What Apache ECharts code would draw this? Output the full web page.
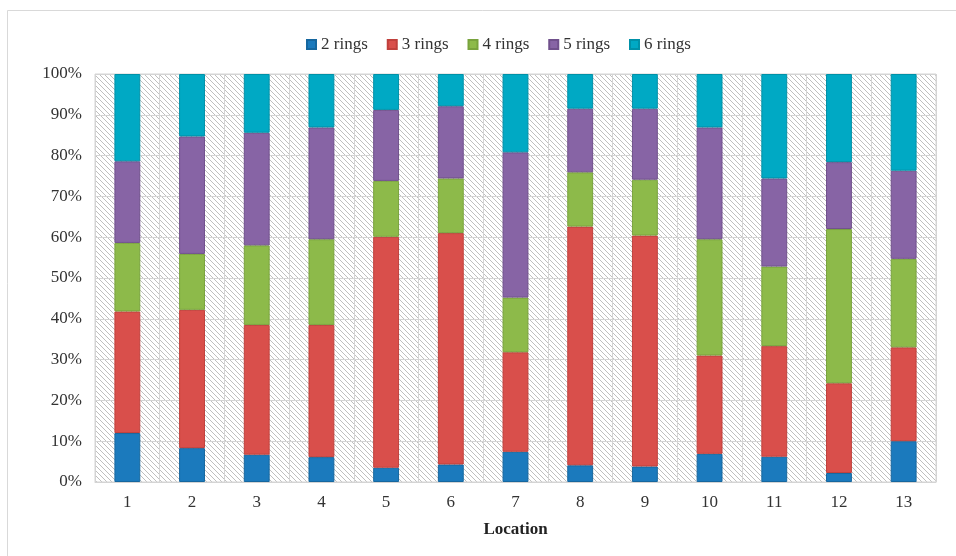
<!DOCTYPE html>
<html>
<head>
<meta charset="utf-8">
<script src="https://cdn.jsdelivr.net/npm/echarts@6/dist/echarts.min.js"></script>
<style>
  html, body { margin: 0; padding: 0; background: #fff; }
  #chart { width: 956px; height: 556px; }
</style>
</head>
<body>
<div id="chart"></div>
<script>
// Share of PAH ring classes (%) at each sampling location
const locations = ['1', '2', '3', '4', '5', '6', '7', '8', '9', '10', '11', '12', '13'];
const rings2 = [12.0, 8.3, 6.7, 6.1, 3.5, 4.3, 7.4, 4.1, 3.8, 6.9, 6.2, 2.2, 10.0];
const rings3 = [29.8, 33.9, 31.8, 32.4, 56.6, 56.7, 24.4, 58.5, 56.6, 24.1, 27.1, 22.0, 23.0];
const rings4 = [16.8, 13.7, 19.5, 21.0, 13.7, 13.4, 13.4, 13.3, 13.7, 28.5, 19.5, 37.8, 21.7];
const rings5 = [20.0, 28.8, 27.6, 27.4, 17.4, 17.7, 35.6, 15.6, 17.4, 27.4, 21.6, 16.4, 21.6];
const rings6 = [21.4, 15.3, 14.4, 13.1, 8.8, 7.9, 19.2, 8.5, 8.5, 13.1, 25.6, 21.6, 23.7];
const seriesNames = ['2 rings', '3 rings', '4 rings', '5 rings', '6 rings'];
const seriesData = [rings2, rings3, rings4, rings5, rings6];
const colors = ['#1b7abd', '#d94f4b', '#8dba4a', '#8764a5', '#00a9c4'];
const borders = ['#16679f', '#c0403c', '#79a33d', '#70508c', '#0091a8'];

// Diagonal hatch tile for the plot background
function hatchTile() {
  const p = 5;
  const c = document.createElement('canvas');
  c.width = p; c.height = p;
  const ctx = c.getContext('2d');
  ctx.fillStyle = '#ffffff';
  ctx.fillRect(0, 0, p, p);
  ctx.strokeStyle = '#bfbfbf';
  ctx.lineWidth = 1;
  for (let k = -1; k <= 1; k++) {
    ctx.beginPath();
    ctx.moveTo(k * p, 0);
    ctx.lineTo(k * p + p, p);
    ctx.stroke();
  }
  return c;
}

const font = 'Liberation Serif';
const chart = echarts.init(document.getElementById('chart'), null, { renderer: 'canvas' });

chart.setOption({
  backgroundColor: '#ffffff',
  animation: false,
  color: colors,
  graphic: [{
    type: 'rect',
    shape: { x: 7.5, y: 10.5, width: 1000, height: 600 },
    style: { fill: null, stroke: '#d9d9d9', lineWidth: 1 },
    silent: true,
    z: -1
  }],
  legend: {
    top: 31,
    left: 301,
    itemWidth: 9,
    itemHeight: 9,
    itemGap: 19,
    icon: 'rect',
    textStyle: { fontFamily: font, fontSize: 17, color: '#333' },
    data: seriesNames
  },
  grid: {
    left: 95, right: 20, top: 74, bottom: 74,
    show: true,
    backgroundColor: { image: hatchTile(), repeat: 'repeat' },
    borderColor: '#d4d4d4',
    borderWidth: 1
  },
  xAxis: {
    type: 'category',
    data: locations,
    boundaryGap: true,
    name: 'Location',
    nameLocation: 'middle',
    nameGap: 39,
    nameTextStyle: { fontFamily: font, fontSize: 17, fontWeight: 'bold', color: '#222' },
    axisLine: { lineStyle: { color: '#d4d4d4' } },
    axisTick: { show: false },
    axisLabel: { fontFamily: font, fontSize: 17, color: '#333', margin: 12 },
    splitLine: { show: true, interval: 0, lineStyle: { color: '#d4d4d4', width: 1 } }
  },
  yAxis: {
    type: 'value',
    min: 0, max: 100, interval: 10,
    axisLine: { show: false },
    axisTick: { show: false },
    axisLabel: { fontFamily: font, fontSize: 17, color: '#333', margin: 13, formatter: '{value}%' },
    splitLine: { lineStyle: { color: '#d4d4d4', width: 1 } }
  },
  series: seriesNames.map((name, i) => ({
    name: name,
    type: 'bar',
    stack: 'total',
    barWidth: '40%',
    data: seriesData[i],
    itemStyle: { color: colors[i], borderColor: borders[i], borderWidth: 1 }
  }))
});
</script>
</body>
</html>
